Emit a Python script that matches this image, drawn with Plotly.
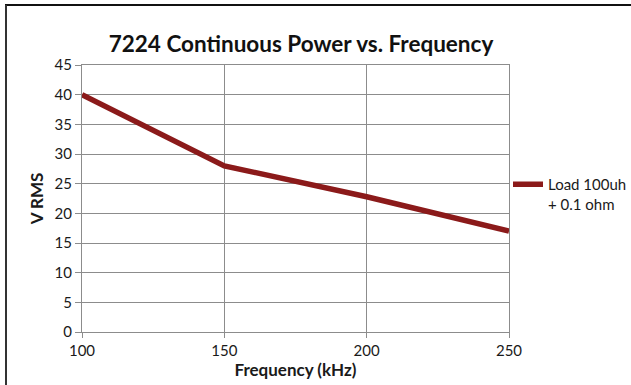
import plotly.graph_objects as go

# Continuous output voltage of the 7224 amplifier at each test frequency
frequency_khz = [100, 150, 200, 250]
v_rms = [40, 28, 22.8, 17]
series_name = "Load 100uh<br>+ 0.1 ohm"

x_ticks = [100, 150, 200, 250]
y_ticks = [0, 5, 10, 15, 20, 25, 30, 35, 40, 45]

W, H = 631, 385
ML, MR, MT, MB = 82, 122, 65, 53
pw, ph = W - ML - MR, H - MT - MB

def px(x):
    return (x - ML) / pw

def py(y):
    return (H - MB - y) / ph

font_family = "Lato, 'Open Sans', sans-serif"
grid = "#8c8c8c"

fig = go.Figure()
fig.add_trace(go.Scatter(
    x=frequency_khz, y=v_rms, mode="lines", name=series_name,
    line=dict(color="#8b1a1a", width=5.5),
    showlegend=True,
))

fig.update_layout(
    width=W, height=H,
    margin=dict(l=ML, r=MR, t=MT, b=MB, autoexpand=False),
    paper_bgcolor="white", plot_bgcolor="white",
    font=dict(family=font_family, color="#1a1a1a", size=15),
    title=dict(text="<b>7224 Continuous Power vs. Frequency</b>",
               xref="container", yref="container",
               x=301 / W, xanchor="center", y=1 - 44 / H, yanchor="middle",
               font=dict(size=22.5, color="#111")),
    xaxis=dict(range=[100, 250], tickvals=x_ticks, showgrid=True, gridcolor=grid,
               gridwidth=1.3, zeroline=False, showline=True, linecolor=grid, linewidth=1.3,
               mirror=True, ticks="outside", ticklen=5, tickcolor=grid,
               tickfont=dict(size=15),
               title=dict(text="<b>Frequency (kHz)</b>", font=dict(size=17), standoff=2)),
    yaxis=dict(range=[0, 45], tickvals=y_ticks, showgrid=True, gridcolor=grid,
               gridwidth=1.3, zeroline=False, showline=True, linecolor=grid, linewidth=1.3,
               mirror=True, ticks="outside", ticklen=6, tickcolor=grid,
               tickfont=dict(size=15),
               title=dict(text="<b>V RMS</b>", font=dict(size=17), standoff=6)),
    legend=dict(x=px(508), y=py(168), xanchor="left", yanchor="top",
                valign="top", font=dict(size=15), bgcolor="rgba(0,0,0,0)",
                itemwidth=30, tracegroupgap=0),
    shapes=[
        dict(type="line", xref="paper", yref="paper", x0=px(5), x1=px(W + 2),
             y0=py(5), y1=py(5), line=dict(color="#111", width=2)),
        dict(type="line", xref="paper", yref="paper", x0=px(6), x1=px(6),
             y0=py(5), y1=py(H + 2), line=dict(color="#333", width=2)),
    ],
)

fig.write_html("out.html")
